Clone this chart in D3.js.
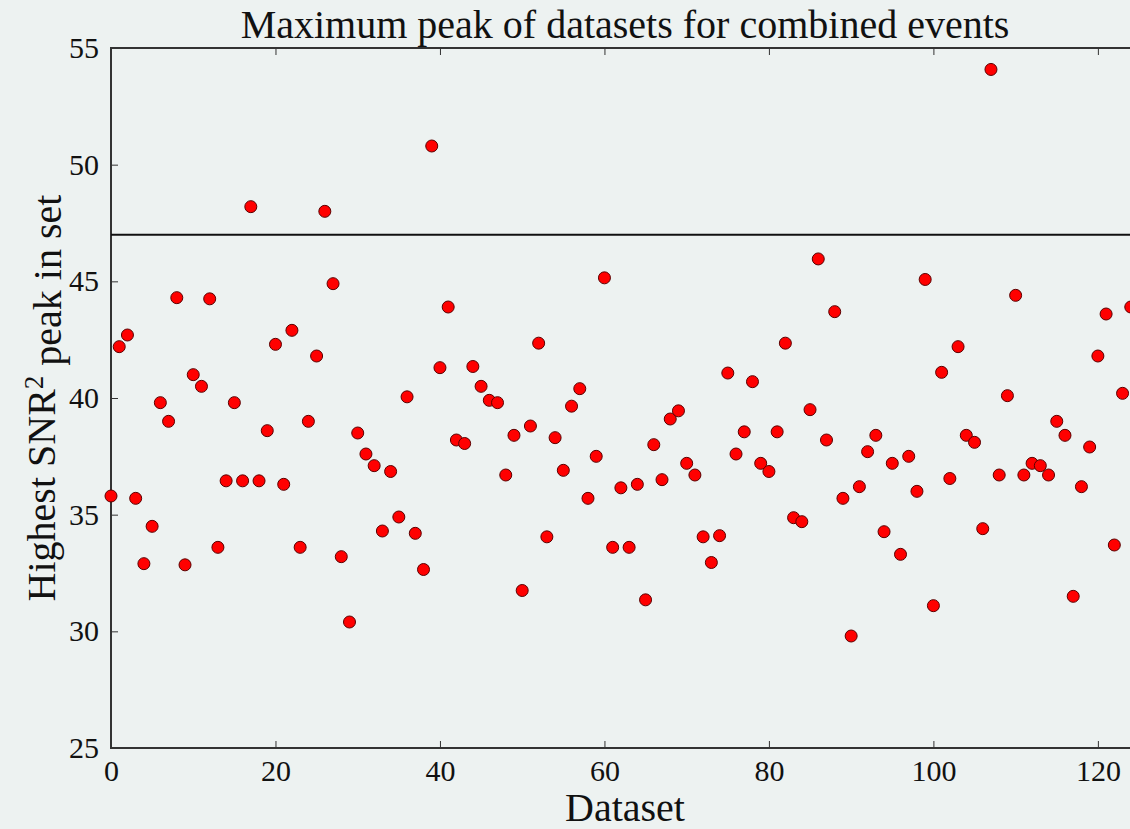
<!DOCTYPE html>
<html>
<head>
<meta charset="utf-8">
<title>Maximum peak of datasets</title>
<script src="https://d3js.org/d3.v7.min.js"></script>
<style>
  html, body { margin: 0; padding: 0; background: #edf2f1; }
  svg { display: block; }
  .title, .label, .tick text { font-family: "Liberation Serif", "Times New Roman", serif; fill: #111; }
</style>
</head>
<body>
<div id="chart"></div>
<script>
// highest SNR^2 peak per dataset, index = dataset number
var peaks = [
  35.8, 42.2, 42.7, 35.7, 32.9, 34.5, 39.8, 39.0, 44.3, 32.85,
  41.0, 40.5, 44.25, 33.6, 36.45, 39.8, 36.45, 48.2, 36.45, 38.6,
  42.3, 36.3, 42.9, 33.6, 39.0, 41.8, 48.0, 44.9, 33.2, 30.4,
  38.5, 37.6, 37.1, 34.3, 36.85, 34.9, 40.05, 34.2, 32.65, 50.8,
  41.3, 43.9, 38.2, 38.05, 41.35, 40.5, 39.9, 39.8, 36.7, 38.4,
  31.75, 38.8, 42.35, 34.05, 38.3, 36.9, 39.65, 40.4, 35.7, 37.5,
  45.15, 33.6, 36.15, 33.6, 36.3, 31.35, 38.0, 36.5, 39.1, 39.45,
  37.2, 36.7, 34.05, 32.95, 34.1, 41.07, 37.6, 38.55, 40.7, 37.2,
  36.85, 38.55, 42.35, 34.87, 34.7, 39.5, 45.96, 38.2, 43.7, 35.7,
  29.8, 36.2, 37.7, 38.4, 34.27, 37.2, 33.3, 37.5, 36.0, 45.08,
  31.1, 41.1, 36.55, 42.2, 38.4, 38.1, 34.4, 54.08, 36.7, 40.1,
  44.4, 36.7, 37.2, 37.1, 36.7, 39.0, 38.4, 31.5, 36.2, 37.9,
  41.8, 43.6, 33.7, 40.2, 43.9
];
var threshold = 47;
var xTicks = [0, 20, 40, 60, 80, 100, 120];
var yTicks = [25, 30, 35, 40, 45, 50, 55];

var W = 1130, H = 829;
var mLeft = 111, mTop = 48, plotW = 1028, plotH = 700;

var svg = d3.select("#chart").append("svg")
    .attr("width", W).attr("height", H);

var x = d3.scaleLinear().domain([0, 125]).range([mLeft, mLeft + plotW]);
var y = d3.scaleLinear().domain([25, 55]).range([mTop + plotH, mTop]);

// tick marks point inward, on all four sides like old matplotlib
function ticks(axis) {
  return axis.tickSizeInner(-7).tickSizeOuter(0).tickPadding(12);
}

var gx = svg.append("g")
    .attr("transform", "translate(0," + (mTop + plotH) + ")")
    .call(ticks(d3.axisBottom(x).tickValues(xTicks).tickFormat(d3.format("d"))));
gx.selectAll(".tick text").attr("font-size", 30);

svg.append("g")
    .attr("transform", "translate(0," + mTop + ")")
    .call(d3.axisTop(x).tickValues(xTicks).tickSizeInner(-7).tickSizeOuter(0).tickFormat(""));

var gy = svg.append("g")
    .attr("transform", "translate(" + mLeft + ",0)")
    .call(ticks(d3.axisLeft(y).tickValues(yTicks).tickFormat(d3.format("d"))));
gy.selectAll(".tick text").attr("font-size", 30);

svg.append("g")
    .attr("transform", "translate(" + (mLeft + plotW) + ",0)")
    .call(d3.axisRight(y).tickValues(yTicks).tickSizeInner(-7).tickSizeOuter(0).tickFormat(""));

svg.selectAll(".domain").remove();
svg.selectAll(".tick line").attr("stroke", "#333").attr("stroke-width", 1);

// frame
svg.append("rect")
    .attr("x", mLeft).attr("y", mTop)
    .attr("width", plotW).attr("height", plotH)
    .attr("fill", "none").attr("stroke", "#333").attr("stroke-width", 2);

// threshold line
svg.append("line")
    .attr("x1", mLeft).attr("x2", mLeft + plotW)
    .attr("y1", y(threshold)).attr("y2", y(threshold))
    .attr("stroke", "#111").attr("stroke-width", 2);

svg.append("g").selectAll("circle")
    .data(peaks)
    .enter().append("circle")
    .attr("cx", function(d, i) { return x(i); })
    .attr("cy", function(d) { return y(d); })
    .attr("r", 6)
    .attr("fill", "#ff0000")
    .attr("stroke", "#5a0000")
    .attr("stroke-width", 1);

svg.append("text").attr("class", "title")
    .attr("x", x(62.5)).attr("y", 38)
    .attr("text-anchor", "middle").attr("font-size", 40)
    .text("Maximum peak of datasets for combined events");

svg.append("text").attr("class", "label")
    .attr("x", x(62.5)).attr("y", 821)
    .attr("text-anchor", "middle").attr("font-size", 40)
    .text("Dataset");

var yl = svg.append("text").attr("class", "label")
    .attr("transform", "translate(55," + y(40) + ") rotate(-90)")
    .attr("text-anchor", "middle").attr("font-size", 40);
yl.append("tspan").text("Highest SNR");
yl.append("tspan").attr("dy", "-0.45em").attr("font-size", 27).text("2");
yl.append("tspan").attr("dy", "0.45em").text(" peak in set");
</script>
</body>
</html>
